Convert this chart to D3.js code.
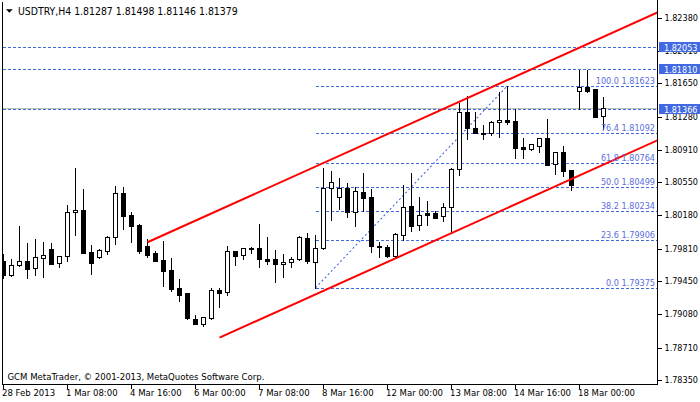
<!DOCTYPE html>
<html><head><meta charset="utf-8">
<script src="https://cdn.jsdelivr.net/npm/d3@7"></script>
<style>
html,body{margin:0;padding:0;background:#fff;}
svg{display:block;}
text{font-family:"DejaVu Sans Condensed","DejaVu Sans",sans-serif;}
</style></head><body>
<svg id="c" width="700" height="402"></svg>
<script>
const symbolName = "USDTRY,H4";
const lastQuote = [1.81287, 1.81498, 1.81146, 1.81379];
const opens = [1.79677,1.79521,1.79626,1.79674,1.79593,1.79710,1.79807,1.79648,1.79726,1.80215,
1.80238,1.79770,1.79715,1.79782,1.79937,1.80427,1.80182,1.80074,1.79837,1.79759,
1.79688,1.79574,1.79373,1.79318,1.79029,1.78970,1.79036,1.79351,1.79326,1.79785,
1.79737,1.79812,1.79815,1.79696,1.79696,1.79637,1.79663,1.79693,1.79926,1.79668,
1.79815,1.80482,1.80382,1.80482,1.80215,1.80438,1.80382,1.79844,1.79826,1.79733,
1.79966,1.80282,1.80071,1.80208,1.80204,1.80171,1.80271,1.80694,1.81328,1.81150,
1.81097,1.81094,1.81216,1.81239,1.81231,1.80938,1.80920,1.80956,1.81038,1.80749,
1.80886,1.80686,1.81561,1.81606,1.81584,1.81287];
const highs = [1.79748,1.79696,1.80063,1.79874,1.79918,1.79885,1.79874,1.79730,1.80293,1.80708,
1.80475,1.79852,1.79807,1.79948,1.80508,1.80493,1.80219,1.80080,1.79922,1.79785,
1.79896,1.79707,1.79474,1.79320,1.79073,1.79055,1.79373,1.79370,1.79841,1.79790,
1.79818,1.79833,1.80085,1.79941,1.79796,1.79752,1.79722,1.79952,1.79985,1.79963,
1.80708,1.80675,1.80594,1.80538,1.80497,1.80649,1.80475,1.79882,1.79852,1.79985,
1.80516,1.80649,1.80382,1.80338,1.80233,1.80315,1.80708,1.81434,1.81509,1.81334,
1.81186,1.81234,1.81550,1.81623,1.81361,1.81045,1.80975,1.81041,1.81253,1.80890,
1.80950,1.80690,1.81802,1.81802,1.81590,1.81498];
const lows = [1.79481,1.79510,1.79620,1.79488,1.79518,1.79499,1.79640,1.79610,1.79677,1.79966,
1.79760,1.79532,1.79710,1.79755,1.79866,1.80030,1.79888,1.79766,1.79718,1.79672,
1.79396,1.79343,1.79232,1.79025,1.78972,1.78947,1.79025,1.79165,1.79292,1.79633,
1.79696,1.79759,1.79604,1.79644,1.79443,1.79499,1.79610,1.79690,1.79648,1.79375,
1.79810,1.80126,1.80249,1.80166,1.80066,1.80230,1.79777,1.79722,1.79722,1.79704,
1.79911,1.80011,1.80019,1.80074,1.80149,1.80122,1.79982,1.80627,1.81034,1.81095,
1.81031,1.81072,1.81056,1.81194,1.80819,1.80823,1.80908,1.80889,1.80740,1.80645,
1.80619,1.80467,1.81361,1.81557,1.81272,1.81146];
const closes = [1.79521,1.79626,1.79670,1.79588,1.79715,1.79737,1.79644,1.79726,1.80215,1.80238,
1.79766,1.79655,1.79796,1.79937,1.80427,1.80178,1.80066,1.79788,1.79744,1.79677,
1.79566,1.79366,1.79299,1.79043,1.78976,1.79051,1.79348,1.79314,1.79782,1.79733,
1.79815,1.79816,1.79693,1.79677,1.79637,1.79663,1.79696,1.79937,1.79677,1.79815,
1.80489,1.80549,1.80482,1.80215,1.80449,1.80371,1.79837,1.79829,1.79733,1.79971,
1.80271,1.80066,1.80189,1.80189,1.80155,1.80271,1.80694,1.81328,1.81150,1.81101,
1.81090,1.81220,1.81239,1.81220,1.80931,1.80923,1.80972,1.81038,1.80745,1.80886,
1.80678,1.80519,1.81609,1.81565,1.81279,1.81379];

const xTickBars = [0, 8, 16, 24, 32, 40, 48, 56, 64, 72];
const xTickLabels = ["28 Feb 2013","1 Mar 08:00","4 Mar 16:00","6 Mar 00:00","7 Mar 08:00",
  "8 Mar 16:00","12 Mar 00:00","13 Mar 08:00","14 Mar 16:00","18 Mar 00:00"];
const yTickValues = [1.82380,1.82010,1.81650,1.81280,1.80910,1.80550,1.80180,1.79810,1.79450,1.79080,1.78710,1.78350];

const fibLevels = [0.0, 23.6, 38.2, 50.0, 61.8, 76.4, 100.0];
const fibPrices = [1.79375, 1.79906, 1.80234, 1.80499, 1.80764, 1.81092, 1.81623];
const fibAnchorBars = [39, 63];
const hLinePrices = [1.82053, 1.81810, 1.81366];
const bidPrice = 1.81379;
const channelUpper = [[18, 1.79882], [57, 1.81446]];
const channelLower = [[27, 1.78821], [57, 1.80024]];
const copyrightText = "GCM MetaTrader, \u00a9 2001-2013, MetaQuotes Software Corp.";

const W = 700, H = 402;
const plotL = 2.5, plotR = 657.5, plotB = 384.5;
const FONT = '"DejaVu Sans Condensed","DejaVu Sans",sans-serif';
const svg = d3.select("#c");
svg.append("rect").attr("width", W).attr("height", H).attr("fill", "#fff");

const x = d3.scaleLinear().domain([0, 75]).range([3.5, 603.5]);
const y = d3.scaleLinear().domain([1.78350, 1.82380]).range([380, 17.7]);
const yr = v => Math.round(y(v)) + 0.5;

svg.append("defs").append("clipPath").attr("id", "plot")
  .append("rect").attr("x", 3).attr("y", 0).attr("width", 654).attr("height", 384);

const plot = svg.append("g").attr("clip-path", "url(#plot)");

// bid line
plot.append("line").attr("x1", 0).attr("x2", plotR).attr("y1", yr(bidPrice)).attr("y2", yr(bidPrice))
  .attr("stroke", "#c0c0c0").attr("stroke-width", 1).attr("shape-rendering", "crispEdges");

// horizontal line objects
plot.selectAll(".hl").data(hLinePrices).join("line")
  .attr("x1", 3).attr("x2", plotR).attr("y1", d => yr(d)).attr("y2", d => yr(d))
  .attr("stroke", "#4169e1").attr("stroke-dasharray", "3,2").attr("stroke-width", 1)
  .attr("shape-rendering", "crispEdges");

// fibo levels
const fx0 = x(fibAnchorBars[0]);
plot.selectAll(".fl").data(fibPrices).join("line")
  .attr("x1", fx0).attr("x2", plotR).attr("y1", d => yr(d)).attr("y2", d => yr(d))
  .attr("stroke", "#4169e1").attr("stroke-dasharray", "3,2").attr("stroke-width", 1)
  .attr("shape-rendering", "crispEdges");
// fibo diagonal
plot.append("line")
  .attr("x1", x(fibAnchorBars[0])).attr("y1", y(fibPrices[0]))
  .attr("x2", x(fibAnchorBars[1])).attr("y2", y(fibPrices[fibPrices.length - 1]))
  .attr("stroke", "#4169e1").attr("stroke-width", 1.1).attr("stroke-dasharray", "2,2.5");

// candles
const idx = d3.range(opens.length);
const cg = plot.append("g").attr("shape-rendering", "crispEdges");
cg.selectAll(".wick").data(idx).join("line")
  .attr("x1", i => x(i)).attr("x2", i => x(i))
  .attr("y1", i => Math.round(y(highs[i])))
  .attr("y2", i => Math.round(y(lows[i])) + 1)
  .attr("stroke", "#000").attr("stroke-width", 1);
cg.selectAll(".body").data(idx).join("path")
  .attr("d", i => {
    const cx = Math.floor(x(i));
    const top = Math.round(y(Math.max(opens[i], closes[i])));
    const bot = Math.round(y(Math.min(opens[i], closes[i])));
    return `M${cx - 1.5},${top + 0.5}h4v${bot - top}h-4Z`;
  })
  .attr("fill", i => closes[i] >= opens[i] ? "#fff" : "#000")
  .attr("stroke", "#000").attr("stroke-width", 1);

// fibo labels
svg.selectAll(".ft").data(fibPrices).join("text")
  .attr("x", 655).attr("y", d => yr(d) - 3)
  .attr("text-anchor", "end").attr("font-size", 9).attr("fill", "#5b6ee1")
  .text((d, i) => fibLevels[i].toFixed(1) + " " + d.toFixed(5));

// channel
function ray(ch) {
  const [[b1, p1], [b2, p2]] = ch;
  const slope = (p2 - p1) / (b2 - b1);
  const bEnd = x.invert(plotR);
  return [[x(b1), y(p1)], [plotR, y(p1 + slope * (bEnd - b1))]];
}
[channelUpper, channelLower].forEach(ch => {
  const pts = ray(ch);
  plot.append("line").attr("x1", pts[0][0]).attr("y1", pts[0][1])
    .attr("x2", pts[1][0]).attr("y2", pts[1][1])
    .attr("stroke", "#ff0000").attr("stroke-width", 2);
});

// frame
svg.append("line").attr("x1", plotL).attr("x2", plotL).attr("y1", 2).attr("y2", plotB)
  .attr("stroke", "#000").attr("shape-rendering", "crispEdges");
svg.append("line").attr("x1", plotL).attr("x2", plotR).attr("y1", plotB).attr("y2", plotB)
  .attr("stroke", "#000").attr("shape-rendering", "crispEdges");
svg.append("line").attr("x1", plotR).attr("x2", plotR).attr("y1", 0).attr("y2", plotB)
  .attr("stroke", "#000").attr("shape-rendering", "crispEdges");

// right axis
const yAxisScale = y.copy().interpolate(d3.interpolateRound);
const yAxis = d3.axisRight(yAxisScale).tickValues(yTickValues).tickFormat(d3.format(".5f"))
  .tickSize(4).tickPadding(3).offset(0.5);
const ya = svg.append("g").attr("transform", `translate(${plotR},0)`).call(yAxis);
ya.select(".domain").remove();
ya.selectAll("line").attr("stroke", "#000").attr("shape-rendering", "crispEdges");
ya.selectAll("text").attr("font-size", 9).attr("fill", "#000").attr("font-family", FONT);

// bottom axis
const xAxis = d3.axisBottom(x).tickValues(xTickBars).tickFormat((d, i) => xTickLabels[i])
  .tickSize(4).offset(0);
const xa = svg.append("g").attr("transform", `translate(0,${plotB})`).call(xAxis);
xa.select(".domain").remove();
xa.selectAll("line").attr("stroke", "#000").attr("shape-rendering", "crispEdges");
xa.selectAll("text").attr("font-size", 9.5).attr("fill", "#000").attr("text-anchor", "start")
  .attr("x", -1.5).attr("y", 11).attr("dy", 0).attr("font-family", FONT);

// label boxes for horizontal lines
const boxes = svg.selectAll(".lb").data(hLinePrices).join("g")
  .attr("transform", d => `translate(659,${Math.round(y(d)) - 5})`);
boxes.append("rect").attr("width", 41).attr("height", 10).attr("fill", "#4169e1");
boxes.append("text").attr("x", 5).attr("y", 8.5).attr("font-size", 9).attr("fill", "#fff")
  .text(d => d.toFixed(5));

// title
svg.append("path").attr("d", "M6,9.3L12.7,9.3L9.35,12.7Z").attr("fill", "#000");
svg.append("text").attr("x", 18).attr("y", 14.7).attr("font-size", 10.4).attr("fill", "#000")
  .text(symbolName + " " + lastQuote.map(v => v.toFixed(5)).join(" "));

// copyright
svg.append("text").attr("x", 7.5).attr("y", 380).attr("font-size", 9.5).attr("fill", "#000")
  .text(copyrightText);
</script>
</body></html>
